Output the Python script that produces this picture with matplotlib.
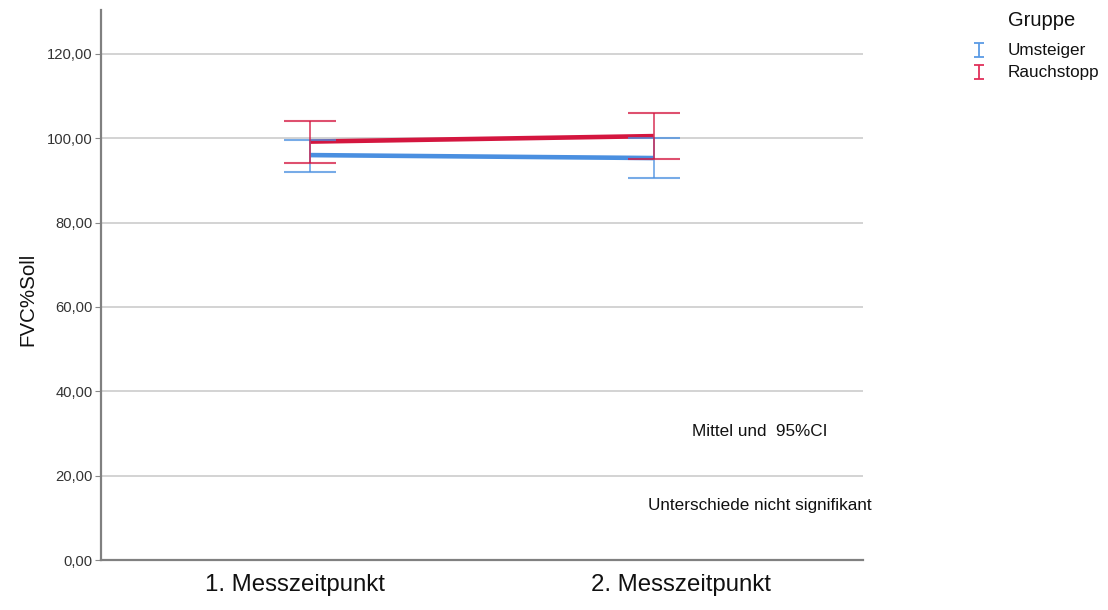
import matplotlib
matplotlib.use("Agg")
import matplotlib.pyplot as plt
from matplotlib.lines import Line2D
from matplotlib.path import Path

plt.rcParams['font.family'] = ['Liberation Sans', 'DejaVu Sans']

# Measurement times
categories = ["1. Messzeitpunkt", "2. Messzeitpunkt"]
groups = ["Umsteiger", "Rauchstopp"]

# Group means and 95% confidence limits of FVC%Soll
umsteiger_mean = [96.0, 95.3]
umsteiger_low = [92.0, 90.6]
umsteiger_high = [99.6, 100.0]

rauchstopp_mean = [99.2, 100.5]
rauchstopp_low = [94.2, 95.0]
rauchstopp_high = [104.1, 105.9]

yticks = [0, 20, 40, 60, 80, 100, 120]
ytick_labels = ["0,00", "20,00", "40,00", "60,00", "80,00", "100,00", "120,00"]

blue = "#4A8FE0"
red = "#D4163F"

W, H = 1108, 610
fig = plt.figure(figsize=(W / 100, H / 100), dpi=100)
ax = fig.add_axes([101 / W, 50 / H, 762 / W, 550 / H])

x = list(range(len(categories)))

for mean, lo, hi, col in [
    (umsteiger_mean, umsteiger_low, umsteiger_high, blue),
    (rauchstopp_mean, rauchstopp_low, rauchstopp_high, red),
]:
    ax.plot(x, mean, color=col, lw=3.3, solid_capstyle='butt', zorder=4)
    yerr = [[m - l for m, l in zip(mean, lo)], [h - m for m, h in zip(mean, hi)]]
    ax.errorbar(x, mean, yerr=yerr, fmt='none', ecolor=col, elinewidth=1.3,
                capsize=18.7, capthick=1.5, alpha=0.75, zorder=5)

ax.set_xlim(-0.61, 1.61)
ax.set_ylim(0, 130.4)
ax.set_yticks(yticks)
ax.set_yticklabels(ytick_labels, fontsize=10.6, color="#333333")
# category labels sit slightly apart from the plotted points
ax.set_xticks([-0.045, 1.08])
ax.set_xticklabels(categories, fontsize=17.3, color="#111111")
ax.tick_params(axis='x', length=0, pad=10)
ax.tick_params(axis='y', length=4, width=0.8, color="#888888", pad=2)

ax.yaxis.grid(True, color="#d0d0d0", lw=1.3)
ax.set_axisbelow(True)
for s in ["top", "right"]:
    ax.spines[s].set_visible(False)
for s in ["left", "bottom"]:
    ax.spines[s].set_color("#808080")
    ax.spines[s].set_linewidth(1.6)

ax.set_ylabel("FVC%Soll", fontsize=14.8, color="#111111")
ax.yaxis.set_label_coords(-0.084, 0.473)

ax.text(1.31, 30.35, "Mittel und  95%CI", fontsize=12.3, ha='center', va='center', color="#111111")
ax.text(1.31, 13.0, "Unterschiede nicht signifikant", fontsize=12.3, ha='center', va='center', color="#111111")

# Legend: group title and I-shaped error bar symbols
ibar = Path([(-0.35, 0.5), (0.35, 0.5), (0, 0.5), (0, -0.5), (-0.35, -0.5), (0.35, -0.5)],
            [Path.MOVETO, Path.LINETO, Path.MOVETO, Path.LINETO, Path.MOVETO, Path.LINETO])
fig.text(1008 / W, 1 - 20 / H, "Gruppe", fontsize=14.5, ha='left', va='center', color="#111111")
for i, (name, col) in enumerate(zip(groups, ["#5B9BE5", "#E0305A"])):
    yy = 1 - (50 + 22 * i) / H
    fig.add_artist(Line2D([978.5 / W], [yy], transform=fig.transFigure, marker=ibar,
                          markersize=9.5, markeredgewidth=1.3, color=col, linestyle='none'))
    fig.text(1008 / W, yy, name, fontsize=12.3, ha='left', va='center', color="#111111")

fig.savefig("out.png", dpi=100)
